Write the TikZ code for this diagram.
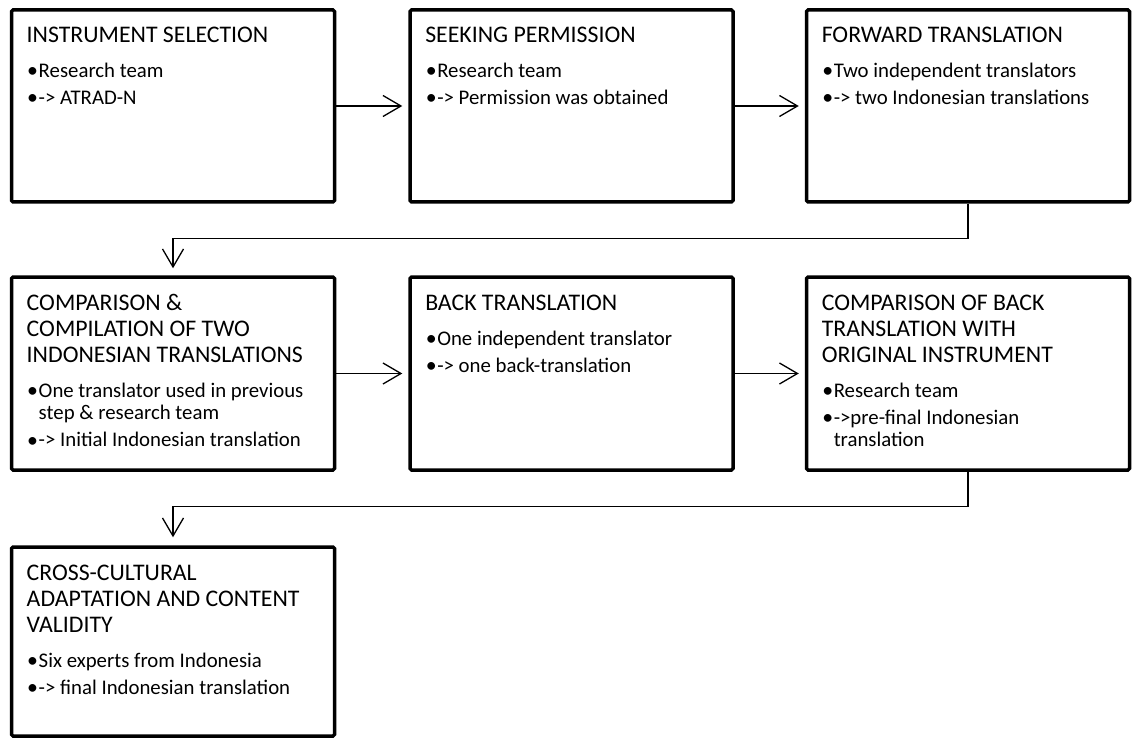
\documentclass[tikz,border=0pt]{standalone}
\usepackage{fontspec}
\setmainfont{Carlito}
\usetikzlibrary{arrows.meta,calc}
\newcommand\ttlfont{\fontsize{23.8}{26}\selectfont}
\newcommand\bulfont{\fontsize{20.8}{22.5}\selectfont}
\newcommand\bitem[1]{\par\noindent\hangindent=12pt\hangafter=1\makebox[12pt][l]{\hspace{0.5pt}\raisebox{-0.4pt}{\scalebox{1.05}{•}}}#1\par}
\newcommand\bsep{\vspace{4.5pt}}
\newcommand\boxtext[2]{\parbox[t]{305pt}{\ttlfont #1\par\vspace{12.5pt}\bulfont #2}}
\tikzset{
  stepbox/.style={draw=black, line width=3.5pt, rounded corners=1.5pt, fill=white,
    minimum width=323pt, minimum height=192pt, inner sep=0pt},
  txt/.style={anchor=base west, inner sep=0pt, outer sep=0pt, align=left},
  arr/.style={draw=black, line width=1.3pt, -{Straight Barb[length=18pt,width=21pt,line width=1.3pt]}},
}
\begin{document}
\begin{tikzpicture}[x=1pt,y=-1pt]
\useasboundingbox[fill=white] (0,0) rectangle (1132,738);
% boxes
\node[stepbox] (b1) at (173,106) {};
\node[stepbox] (b2) at (571.5,106) {};
\node[stepbox] (b3) at (968,106) {};
\node[stepbox, minimum height=193pt] (b4) at (173,373.5) {};
\node[stepbox, minimum height=193pt] (b5) at (571.5,373.5) {};
\node[stepbox, minimum height=193pt] (b6) at (968,373.5) {};
\node[stepbox, minimum height=189pt] (b7) at (173,641.5) {};
% texts
\node[txt] (t1) at ($(b1.north west)+(17,34)$) {\boxtext{INSTRUMENT SELECTION}{\bitem{Research team}\bsep\bitem{-> ATRAD-N}}};
\node[txt] (t2) at ($(b2.north west)+(17,34)$) {\boxtext{SEEKING PERMISSION}{\bitem{Research team}\bsep\bitem{-> Permission was obtained}}};
\node[txt] (t3) at ($(b3.north west)+(17,34)$) {\boxtext{FORWARD TRANSLATION}{\bitem{Two independent translators}\bsep\bitem{-> two Indonesian translations}}};
\node[txt] (t4) at ($(b4.north west)+(17,35)$) {\boxtext{COMPARISON \&\newline COMPILATION OF TWO\newline INDONESIAN TRANSLATIONS}{\bitem{One translator used in previous\newline step \& research team}\bsep\bitem{-> Initial Indonesian translation}}};
\node[txt] (t5) at ($(b5.north west)+(17,35)$) {\boxtext{BACK TRANSLATION}{\bitem{One independent translator}\bsep\bitem{-> one back-translation}}};
\node[txt] (t6) at ($(b6.north west)+(17,35)$) {\boxtext{COMPARISON OF BACK\newline TRANSLATION WITH\newline ORIGINAL INSTRUMENT}{\bitem{Research team}\bsep\bitem{->pre-final Indonesian\newline translation}}};
\node[txt] (t7) at ($(b7.north west)+(17,35)$) {\boxtext{CROSS-CULTURAL\newline ADAPTATION AND CONTENT\newline VALIDITY}{\bitem{Six experts from Indonesia}\bsep\bitem{-> final Indonesian translation}}};
% connectors
\draw[arr, shorten >=6pt] (b1.east) -- (b2.west);
\draw[arr, shorten >=6pt] (b2.east) -- (b3.west);
\draw[arr, shorten >=7pt] (b3.south) -- ++(0,35) -| (b4.north);
\draw[arr, shorten >=6pt] (b4.east) -- (b5.west);
\draw[arr, shorten >=6pt] (b5.east) -- (b6.west);
\draw[arr, shorten >=8pt] (b6.south) -- ++(0,35) -| (b7.north);
\end{tikzpicture}
\end{document}
